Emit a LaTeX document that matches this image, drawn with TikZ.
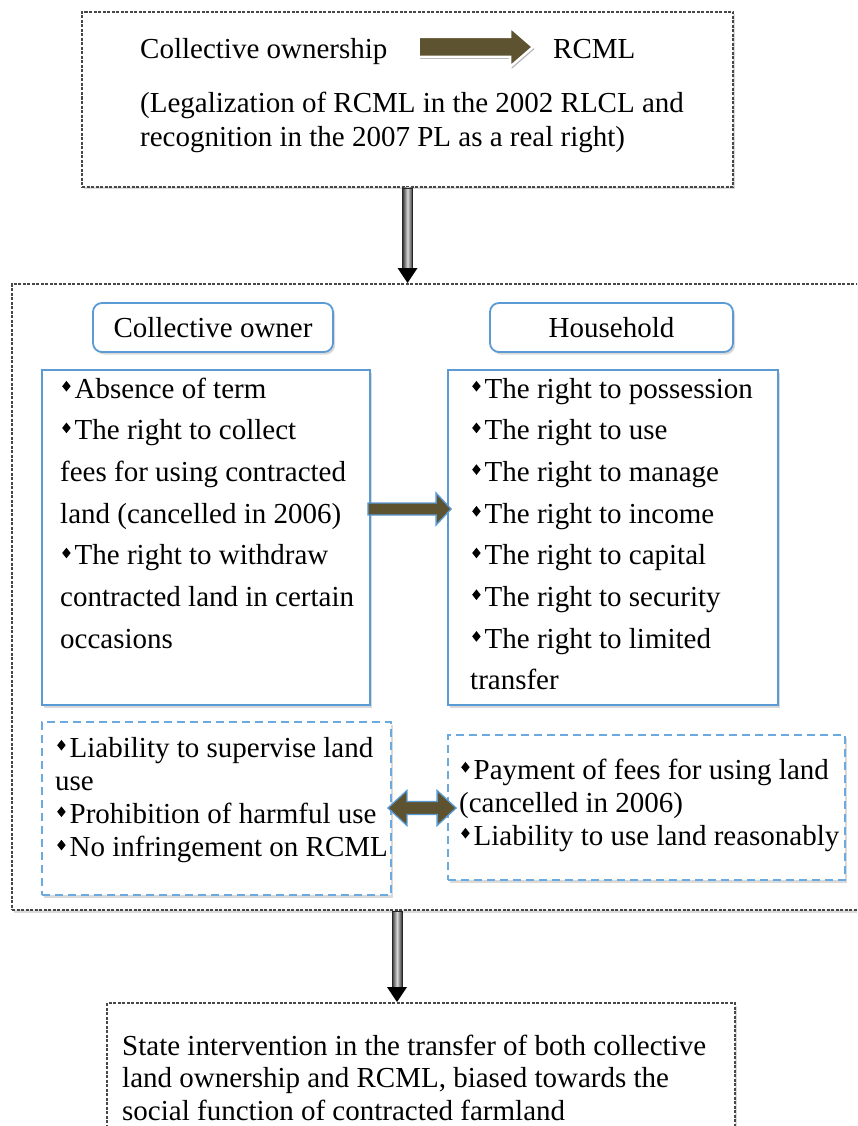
\documentclass[tikz,border=0pt]{standalone}
\usepackage{fontspec}
\usepackage{graphicx}
\setmainfont{Liberation Serif}
\usetikzlibrary{calc,shadows,fit}
\definecolor{arrowolive}{HTML}{5E5330}
\definecolor{boxblue}{HTML}{5B9BD5}
\definecolor{dashblue}{HTML}{6AAAE0}
\newcommand\dmd{\hspace*{2pt}\raisebox{6.5pt}{\scalebox{0.8}[1]{\rotatebox{45}{\rule{7.5pt}{7.5pt}}}}\hspace{4pt}}
% horizontal block arrow: style, tail, tip, body half, head half, head length
\newcommand\harr[6]{\path[#1] ($(#2)+(0,-#4)$) -- ($(#3)+(-#6,-#4)$) -- ($(#3)+(-#6,-#5)$) -- (#3) -- ($(#3)+(-#6,#5)$) -- ($(#3)+(-#6,#4)$) -- ($(#2)+(0,#4)$) -- cycle;}
% double block arrow: style, left tip, right tip, body half, head half, head length
\newcommand\dharr[6]{\path[#1] (#2) -- ($(#2)+(#6,-#5)$) -- ($(#2)+(#6,-#4)$) -- ($(#3)+(-#6,-#4)$) -- ($(#3)+(-#6,-#5)$) -- (#3) -- ($(#3)+(-#6,#5)$) -- ($(#3)+(-#6,#4)$) -- ($(#2)+(#6,#4)$) -- ($(#2)+(#6,#5)$) -- cycle;}
% vertical arrow: start, tip
\newcommand\varr[2]{\shadedraw[left color=black!80, right color=black!80, middle color=black!15, draw=black!85, line width=0.7pt] ($(#1)+(-5,0)$) rectangle ($(#2)+(5,-14)$);
 \fill[black] ($(#2)+(-10,-15)$) -- (#2) -- ($(#2)+(10,-15)$) -- cycle;}
\begin{document}
\begin{tikzpicture}[x=1pt,y=-1pt,
 txt/.style={font=\fontsize{29}{35}\selectfont, inner sep=0pt, anchor=base west},
 shad/.style={drop shadow={shadow xshift=2pt, shadow yshift=-2.5pt, opacity=0.15, fill=black}},
 graybox/.style={draw=black!72, line width=2pt, dash pattern=on 3pt off 1.5pt, fill=white, shad, inner sep=0pt},
 listbox/.style={draw=boxblue, line width=1.8pt, fill=white, shad, inner sep=0pt},
 dashbox/.style={draw=dashblue, line width=1.8pt, dash pattern=on 8pt off 5pt, fill=white, shad, inner sep=0pt},
 headbox/.style={draw=boxblue, line width=1.8pt, rounded corners=9pt, fill=white, shad, inner sep=0pt, font=\fontsize{29}{35}\selectfont},
 blockarrow/.style={fill=arrowolive, draw=boxblue, line width=1.3pt, line join=miter},
 topblock/.style={fill=arrowolive, draw=white, line width=2.5pt, line join=miter, drop shadow={shadow xshift=1.5pt, shadow yshift=-2pt, opacity=0.3, fill=black}},
]
\useasboundingbox (0,0) rectangle (857,1126);
\fill[white] (0,0) rectangle (857,1126);
\clip (0,0) rectangle (857,1126);

% big dashed boxes
\node[graybox, fit={(82,12)(733,187)}] (top) {};
\node[graybox, fit={(12,284)(885,910)}] (mid) {};
\node[graybox, fit={(107,1003)(735,1160)}] (bot) {};

% top box content
\node[txt] (co) at (140,59) {Collective ownership};
\node[txt] (rcml) at (553,59) {RCML};
\node[txt] (leg1) at (140,113) {(Legalization of RCML in the 2002 RLCL and};
\node[txt] (leg2) at (140,147) {recognition in the 2007 PL as a real right)};
\coordinate (tA) at ($(co.base east)+(31,-12)$);
\coordinate (tB) at ($(rcml.base west)+(-20,-12)$);
\harr{topblock}{tA}{tB}{10}{20}{23}

% headers
\node[headbox, minimum width=240pt, minimum height=49pt] (hco) at (213,327.5) {Collective owner};
\node[headbox, minimum width=243pt, minimum height=49pt] (hhh) at (611.5,327.5) {Household};

% list boxes
\node[listbox, fit={(42,370)(370,705)}] (listL) {};
\node[listbox, fit={(448,370)(778,705)}] (listR) {};
\node[dashbox, fit={(42,722)(391,895)}] (dashL) {};
\node[dashbox, fit={(448,735)(845,880)}] (dashR) {};

\foreach \t [count=\i] in {{\dmd Absence of term},{\dmd The right to collect},{fees for using contracted},{land (cancelled in 2006)},{\dmd The right to withdraw},{contracted land in certain},{occasions}}
  \node[txt] (cl\i) at (60,{398+41.7*(\i-1)}) {\t};

\foreach \t [count=\i] in {{\dmd The right to possession},{\dmd The right to use},{\dmd The right to manage},{\dmd The right to income},{\dmd The right to capital},{\dmd The right to security},{\dmd The right to limited},{transfer}}
  \node[txt] (hl\i) at (470,{398+41.7*(\i-1)}) {\t};

\foreach \t [count=\i] in {{\dmd Liability to supervise land},{use},{\dmd Prohibition of harmful use},{\dmd No infringement on RCML}}
  \node[txt] (dl\i) at (55,{757+33.3*(\i-1)}) {\t};

\foreach \t [count=\i] in {{\dmd Payment of fees for using land},{(cancelled in 2006)},{\dmd Liability to use land reasonably}}
  \node[txt] (dr\i) at (459,{779+33*(\i-1)}) {\t};

\foreach \t [count=\i] in {{State intervention in the transfer of both collective},{land ownership and RCML, biased towards the},{social function of contracted farmland}}
  \node[txt] (bl\i) at (122,{1055+32.5*(\i-1)}) {\t};

% block arrows
\coordinate (lrA) at ($(listL.east |- 0,509)+(-3,0)$);
\coordinate (lrB) at ($(listR.west |- 0,509)+(4,0)$);
\harr{blockarrow}{lrA}{lrB}{6}{16}{15}
\coordinate (dA) at ($(dashL.east |- 0,808)+(-4,0)$);
\coordinate (dB) at ($(dashR.west |- 0,808)+(9,0)$);
\dharr{blockarrow}{dA}{dB}{6.5}{17.5}{19}

% vertical arrows
\varr{top.south}{top.south |- mid.north}
\coordinate (v2) at (397,0);
\varr{mid.south -| v2}{bot.north -| v2}
\end{tikzpicture}
\end{document}
